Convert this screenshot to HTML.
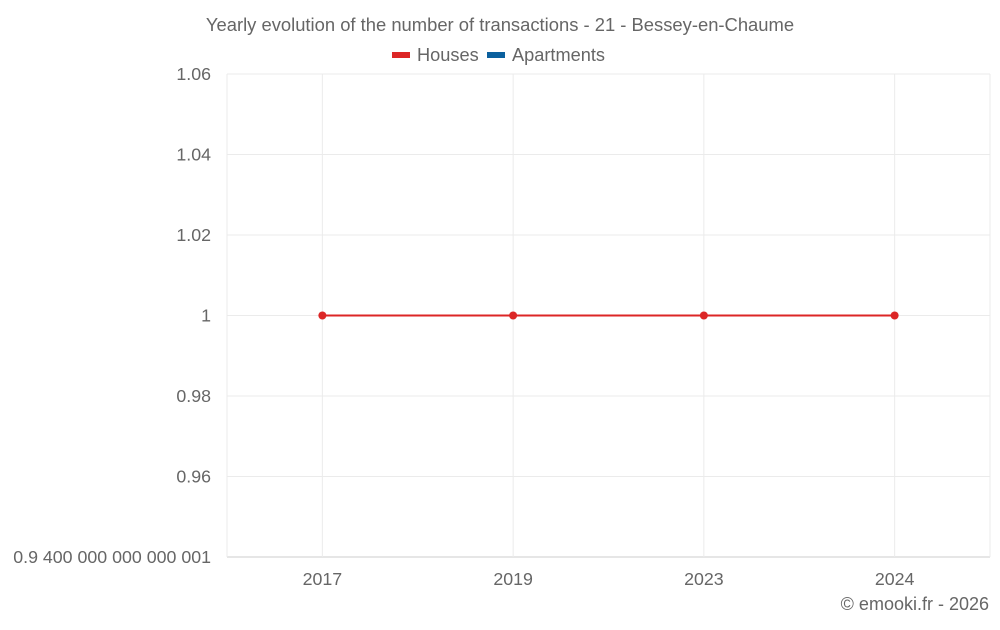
<!DOCTYPE html>
<html><head><meta charset="utf-8"><style>
body{margin:0;background:#fff;font-family:"Liberation Sans",sans-serif;}
svg text{font-family:"Liberation Sans",sans-serif;fill:#666;}
</style></head><body>
<svg id="chart" width="1000" height="625">
<text x="500" y="31" text-anchor="middle" font-size="18.4">Yearly evolution of the number of transactions - 21 - Bessey-en-Chaume</text>
<g>
<g><rect x="392" y="52" width="18" height="6" fill="#dc2626"/><text x="417" y="61" font-size="18.2">Houses</text></g>
<g><rect x="487" y="52" width="18" height="6" fill="#0b609e"/><text x="512" y="61" font-size="18.2">Apartments</text></g>
</g>
<g id="grid"></g><g id="axes"></g><g id="marks"></g>
<text x="989" y="610" text-anchor="end" font-size="18">© emooki.fr - 2026</text>
</svg>
<script>
const categories=["2017","2019","2023","2024"];
const houses=[1,1,1,1];
const yTicks=[0.94,0.96,0.98,1,1.02,1.04,1.06];
const yTickLabels=["0.9 400 000 000 000 001","0.96","0.98","1","1.02","1.04","1.06"];
const L=227,R=990,T=74,B=557,yMin=0.94,yMax=1.06;
const NS="http://www.w3.org/2000/svg";
const bw=(R-L)/categories.length;
const x=i=>L+bw*(i+0.5);
const y=v=>B-(v-yMin)/(yMax-yMin)*(B-T);
function mk(t,a,p){const e=document.createElementNS(NS,t);for(const k in a)e.setAttribute(k,a[k]);p.appendChild(e);return e;}
const g=document.getElementById('grid'),ax=document.getElementById('axes'),m=document.getElementById('marks');
yTicks.forEach((v,i)=>{
 const l=mk('line',{x1:L,x2:R,y1:y(v),y2:y(v),stroke:i==0?'#ccc':'#ebebeb','stroke-width':1},g);
 
 
 const t=mk('text',{x:211,y:y(v)+6,'text-anchor':'end','font-size':17.8},ax);
 t.textContent=yTickLabels[i];
 
 
});
[L,R].forEach(px=>{
 const l=mk('line',{x1:px,x2:px,y1:T,y2:B,stroke:'#ebebeb'},g);
 
 
});
categories.forEach((c,i)=>{
 const l=mk('line',{x1:x(i),x2:x(i),y1:T,y2:B,stroke:'#ebebeb'},g);
 
 
 const t=mk('text',{x:x(i),y:585,'text-anchor':'middle','font-size':17.8},ax);
 t.textContent=c;
 
 
});
const line=mk('polyline',{points:houses.map((v,i)=>x(i)+','+y(v)).join(' '),fill:'none',stroke:'#dc2626','stroke-width':2},m);


houses.forEach((v,i)=>{
 const c=mk('circle',{cx:x(i),cy:y(v),r:4,fill:'#dc2626'},m);
 
 
});
</script>
</body></html>
